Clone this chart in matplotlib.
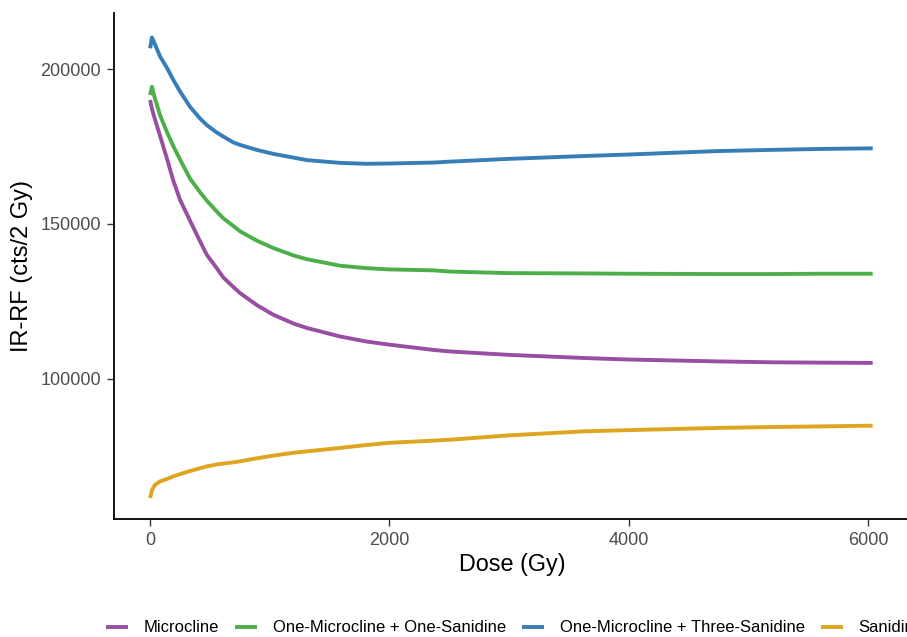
import matplotlib
matplotlib.use('Agg')
import matplotlib.pyplot as plt

plt.rcParams['font.family'] = ['Liberation Sans', 'DejaVu Sans']

# values
dose = [0, 15, 40, 84, 139, 195, 251, 334, 418, 474, 557, 612, 696, 752, 891, 1030,
        1200, 1309, 1587, 1810, 2000, 2367, 2506, 3000, 3620, 4000, 4734, 5200, 5600, 6040]

microcline = [190000, 187200, 183800, 178300, 171300, 163800, 157700, 151000, 144300, 140000,
              135700, 132700, 129600, 127650, 123800, 120650, 117800, 116400, 113650, 112000,
              111000, 109300, 108800, 107700, 106700, 106200, 105600, 105300, 105200, 105100]

one_one = [191600, 194300, 190500, 185000, 179800, 175000, 170700, 164600, 160200, 157500,
           154000, 151800, 149300, 147600, 144600, 142200, 139800, 138600, 136500, 135700,
           135300, 135000, 134600, 134100, 134000, 133900, 133800, 133800, 133900, 133900]

one_three = [206700, 210200, 208000, 204000, 200500, 196400, 192700, 187800, 184000, 181900,
             179500, 178200, 176300, 175500, 173900, 172600, 171400, 170600, 169700, 169400,
             169500, 169800, 170100, 171000, 171900, 172400, 173500, 173900, 174200, 174400]

sanidine = [61500, 64000, 65700, 66870, 67600, 68480, 69200, 70200, 71100, 71700,
            72300, 72600, 73000, 73320, 74300, 75160, 76100, 76550, 77640, 78600,
            79300, 80000, 80300, 81700, 83000, 83400, 84100, 84400, 84600, 84840]

labels = ['Microcline', 'One-Microcline + One-Sanidine',
          'One-Microcline + Three-Sanidine', 'Sanidine']
colors = ['#984EA3', '#4DAF4A', '#377EB8', '#DFA521']
series = [microcline, one_one, one_three, sanidine]

W, H = 907, 637
fig = plt.figure(figsize=(W / 100, H / 100), dpi=100)
ax = fig.add_axes([114 / W, (H - 519) / H, (910 - 114) / W, (519 - 13) / H])

handles = []
for vals, lab, c in zip(series, labels, colors):
    line, = ax.plot(dose, vals, color=c, lw=2.8, label=lab,
                    solid_joinstyle='round', solid_capstyle='butt')
    handles.append(line)

ax.set_xlim(-302, 6352)
ax.set_ylim(54700, 218100)
ax.set_xticks([0, 2000, 4000, 6000])
ax.set_yticks([100000, 150000, 200000])
ax.set_xticklabels(['0', '2000', '4000', '6000'])
ax.set_yticklabels(['100000', '150000', '200000'])

for s in ['top', 'right']:
    ax.spines[s].set_visible(False)
for s in ['left', 'bottom']:
    ax.spines[s].set_linewidth(1.3)
    ax.spines[s].set_color('black')
ax.tick_params(axis='both', length=5, width=1.0, color='#333333',
               labelsize=13, labelcolor='#4D4D4D', pad=4.3)

fig.text(512 / W, 1 - 565 / H, 'Dose (Gy)', fontsize=16.8,
         ha='center', va='center')
fig.text(22 / W, 1 - 266 / H, 'IR-RF (cts/2 Gy)', fontsize=17,
         ha='center', va='center', rotation=90)

fig.legend(handles=handles, labels=labels, ncol=4, frameon=False,
           loc='center left', bbox_to_anchor=(106 / W, 9 / H),
           fontsize=12, handlelength=1.32, handletextpad=0.95,
           columnspacing=0.95, borderpad=0, borderaxespad=0)

fig.savefig('out.png', dpi=100)
